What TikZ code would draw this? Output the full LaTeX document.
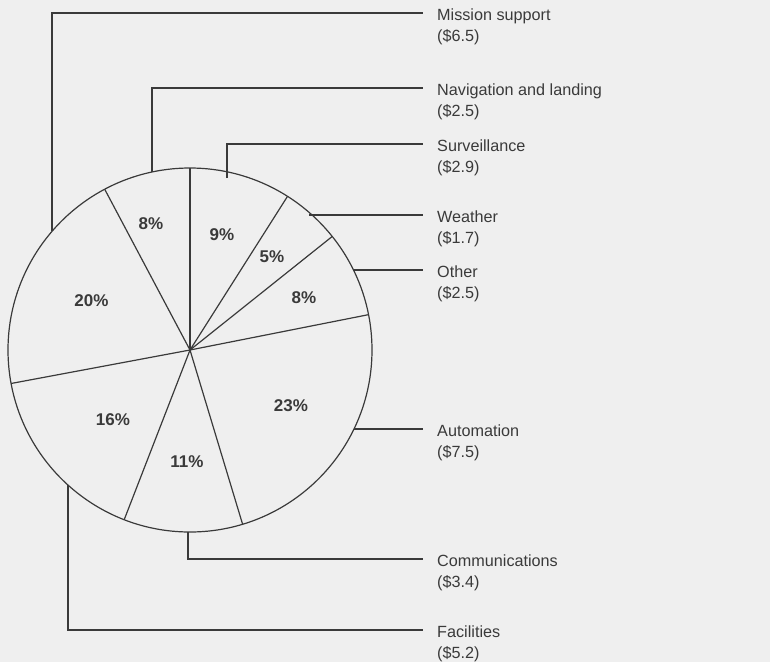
\documentclass[tikz,border=0pt]{standalone}
\usepackage{fontspec}
\setmainfont{Liberation Sans}
\usetikzlibrary{calc}
\definecolor{ink}{HTML}{3A3A3A}
\definecolor{paper}{HTML}{EFEFEF}
\begin{document}
\begin{tikzpicture}[x=1pt,y=1pt,
  wedge/.style={draw=ink,line width=1.2pt},
  pct/.style={font=\fontsize{17}{20}\selectfont\bfseries,text=ink,inner sep=0pt},
  lbl/.style={font=\fontsize{16.2}{21}\selectfont,text=ink,align=left,anchor=base west,inner sep=0pt},
  callout/.style={draw=ink,line width=1.2pt}]
\fill[paper] (0,0) rectangle (770,-662);
\useasboundingbox (0,0) rectangle (770,-662);
\coordinate (C) at (190,-350);
% pie
\draw[wedge] (C) circle (182);
\foreach \a in {90,57.6,38.6,11.2,-73.2,-111.2,-169.4,117.95}
  \draw[wedge] (C) -- ($(C)+(\a:182)$);
% percentages
\node[pct] (p9)  at (222,-235) {9\%};
\node[pct] (p5)  at (272,-257) {5\%};
\node[pct] (p8a) at (304,-298) {8\%};
\node[pct] (p23) at (291,-406) {23\%};
\node[pct] (p11) at (187,-462) {11\%};
\node[pct] (p16) at (113,-420) {16\%};
\node[pct] (p20) at (91.5,-301) {20\%};
\node[pct] (p8b) at (151,-224) {8\%};
% callout end points
\coordinate (s1) at ($(C)+(139.3:182)$);
\coordinate (s2) at ($(C)+(102.05:182)$);
\coordinate (s3) at (227,-178);
\coordinate (s4) at (309,-215);
\coordinate (s5) at (353.5,-270);
\coordinate (s6) at (354,-429);
\coordinate (s7) at (188,-532);
\coordinate (s8) at (68,-485);
\coordinate (e1) at (423,-13);
\coordinate (e2) at (423,-88);
\coordinate (e3) at (423,-144);
\coordinate (e4) at (423,-215);
\coordinate (e5) at (423,-270);
\coordinate (e6) at (423,-429);
\coordinate (e7) at (423,-559);
\coordinate (e8) at (423,-630);
% labels (base anchor = baseline of the second line)
\node[lbl] (l1) at ($(e1)+(14,-28)$) {Mission support\\(\$6.5)};
\node[lbl] (l2) at ($(e2)+(14,-28)$) {Navigation and landing\\(\$2.5)};
\node[lbl] (l3) at ($(e3)+(14,-28)$) {Surveillance\\(\$2.9)};
\node[lbl] (l4) at ($(e4)+(14,-28)$) {Weather\\(\$1.7)};
\node[lbl] (l5) at ($(e5)+(14,-28)$) {Other\\(\$2.5)};
\node[lbl] (l6) at ($(e6)+(14,-28)$) {Automation\\(\$7.5)};
\node[lbl] (l7) at ($(e7)+(14,-28)$) {Communications\\(\$3.4)};
\node[lbl] (l8) at ($(e8)+(14,-28)$) {Facilities\\(\$5.2)};
% callout lines
\draw[callout] (s1) |- (e1);
\draw[callout] (s2) |- (e2);
\draw[callout] (s3) |- (e3);
\draw[callout] (s4) -- (e4);
\draw[callout] (s5) -- (e5);
\draw[callout] (s6) -- (e6);
\draw[callout] (s7) |- (e7);
\draw[callout] (s8) |- (e8);
\end{tikzpicture}
\end{document}
